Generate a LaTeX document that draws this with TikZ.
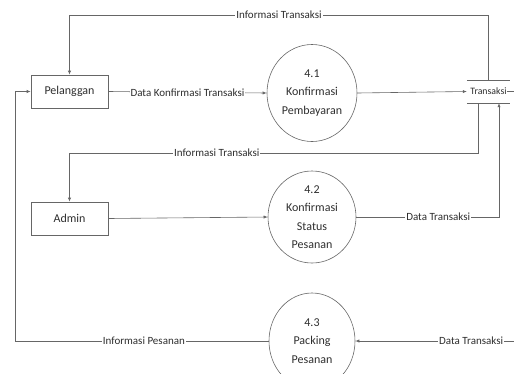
\documentclass[tikz,border=0pt]{standalone}
\usepackage{fontspec}
\setmainfont{Carlito}
\usetikzlibrary{arrows.meta,shapes.geometric}
\definecolor{linegray}{gray}{0.4}
\definecolor{textgray}{gray}{0.18}
\begin{document}
\begin{tikzpicture}[x=1pt,y=-1pt,
  every node/.style={text=textgray},
  entity/.style={draw=linegray,line width=0.6pt,minimum width=77pt,minimum height=33pt,
    font=\fontsize{12}{14}\selectfont},
  process/.style={draw=linegray,line width=0.6pt,ellipse,inner sep=0pt,align=center,
    font=\fontsize{12}{18.5}\selectfont},
  storetext/.style={inner sep=0pt,minimum width=43pt,minimum height=23pt,
    font=\fontsize{9.8}{12}\selectfont},
  flow/.style={draw=linegray,line width=0.6pt,-{Latex[length=4pt,width=3.2pt]}},
  plain/.style={draw=linegray,line width=0.6pt},
  lbl/.style={fill=white,inner sep=1pt,font=\fontsize{11}{13}\selectfont}]
\useasboundingbox (0,0) rectangle (514,373);
\begin{scope}
\clip (0,0) rectangle (514,373);

% external entities
\node[entity] (pel) at (69.5,91.5) {Pelanggan};
\node[entity] (adm) at (69.5,218.5) {Admin};

% processes
\node[process,minimum width=90pt,minimum height=97pt] (p41) at (312,93) {4.1\\Konfirmasi\\Pembayaran};
\node[process,minimum width=88pt,minimum height=92pt] (p42) at (312,217) {4.2\\Konfirmasi\\Status\\Pesanan};
\node[process,minimum width=86pt,minimum height=96pt] (p43) at (312,341) {4.3\\Packing\\Pesanan};

% data store
\node[storetext] (store) at (488.5,91.5) {Transaksi};
\draw[plain] (store.north west) -- (store.north east);
\draw[plain] (store.south west) -- (store.south east);

% helper points
\coordinate (s1) at ([xshift=-10pt]store.south);
\coordinate (s2) at ([xshift=10.5pt]store.south);
\coordinate (topleft) at (69.5,15);
\coordinate (midleft) at (69.5,153);
\coordinate (farleft) at (15,91.5);
\coordinate (storeout) at (514,91.5);
\coordinate (inright) at (514,341);

% flows
\draw[flow] (store.north) |- node[lbl,pos=0.75] {Informasi Transaksi} (topleft) -- (pel.north);
\draw[flow] (pel.east) -- node[lbl] {Data Konfirmasi Transaksi} (p41.west);
\draw[flow] (p41.east) -- (store.west);
\draw[plain] ([xshift=-3pt]store.east) -- (storeout);
\draw[flow] (s1) |- node[lbl,pos=0.82] {Informasi Transaksi} (midleft) -- (adm.north);
\draw[flow] (adm.east) -- (p42.west);
\draw[flow] (p42.east) -| node[lbl,pos=0.287] {Data Transaksi} (s2);
\draw[flow] (inright) -- node[lbl,pos=0.27] {Data Transaksi} (p43.east);
\draw[flow] (p43.west) -| node[lbl,pos=0.246] {Informasi Pesanan} (farleft) -- (pel.west);
\end{scope}
\end{tikzpicture}
\end{document}
